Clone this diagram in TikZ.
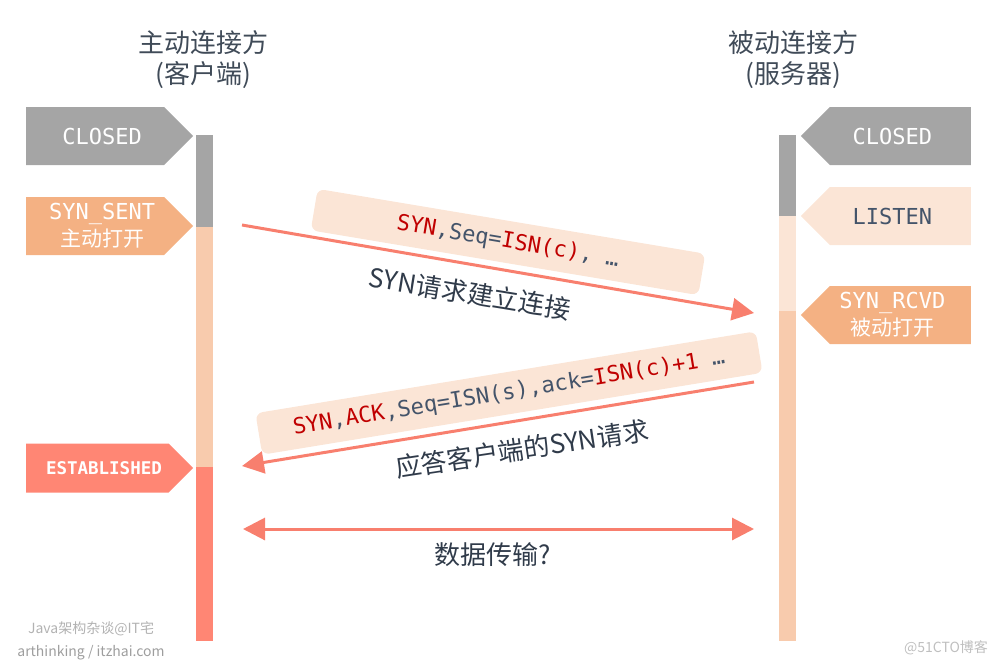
\documentclass[tikz,border=0pt]{standalone}
\usepackage{fontspec}
\setmainfont{Noto Sans CJK SC}
\setmonofont{DejaVu Sans Mono}
\usepackage{xcolor}
\usepackage{tikz}
\usetikzlibrary{arrows.meta, shapes.symbols}

\definecolor{stgray}{HTML}{A5A5A5}
\definecolor{storange}{HTML}{F4B183}
\definecolor{stpeach}{HTML}{F8CBAD}
\definecolor{stlight}{HTML}{FBE5D6}
\definecolor{stsalmon}{HTML}{FF8674}
\definecolor{arrowc}{HTML}{F87F6E}
\definecolor{darktext}{HTML}{44546A}
\definecolor{titletext}{HTML}{404B58}
\definecolor{codered}{HTML}{C00000}

\newcommand{\tagfont}{\ttfamily\fontsize{22}{27}\selectfont}
\newcommand{\zhtag}{\rmfamily\fontsize{21}{27}\selectfont}
\newcommand{\codefont}{\ttfamily\fontsize{22}{26}\selectfont}
\newcommand{\red}[1]{\textcolor{codered}{#1}}
\newcommand{\padL}{\hspace*{14pt}}
\newcommand{\padR}{\hspace*{16pt}}

\begin{document}
\begin{tikzpicture}[
    x=1pt, y=-1pt,
    tagL/.style={signal, signal to=east, signal pointer angle=90, fill=#1, minimum width=167pt, minimum height=58pt, inner sep=0pt, anchor=west, align=center, text=white, font=\tagfont},
    tagR/.style={signal, signal to=west, signal pointer angle=90, fill=#1, minimum width=170pt, minimum height=58pt, inner sep=0pt, anchor=east, align=center, text=white, font=\tagfont},
    lbl/.style={fill=stlight, rounded corners=7pt, minimum height=42pt, inner sep=0pt, text=darktext, font=\codefont},
    note/.style={text=darktext!70!black, font=\fontsize{26}{30}\selectfont},
    msg/.style={draw=arrowc, line width=3pt, -{Triangle[length=22pt,width=22pt]}},
    both/.style={draw=arrowc, line width=3pt, {Triangle[length=22pt,width=22pt]}-{Triangle[length=22pt,width=22pt]}},
    wmark/.style={font=\fontsize{14}{16}\selectfont}
]
    \useasboundingbox (0,0) rectangle (1000,665);

    \node[align=center, text=titletext, font=\fontsize{26}{31}\selectfont] (client) at (203,60) {主动连接方\\(客户端)};
    \node[align=center, text=titletext, font=\fontsize{26}{31}\selectfont] (server) at (793,60) {被动连接方\\(服务器)};

    \fill[stgray]   (196,135) rectangle (213,227);
    \fill[stpeach]  (196,227) rectangle (213,467);
    \fill[stsalmon] (196,467) rectangle (213,641);
    \fill[stgray]   (779,135) rectangle (796,216);
    \fill[stlight]  (779,216) rectangle (796,311);
    \fill[stpeach]  (779,311) rectangle (796,641);

    \node[tagL=stgray]   (cclosed) at (26,136) {\padL CLOSED};
    \node[tagL=storange] (sent)    at (26,226) {\padL SYN\_SENT\\\padL{\zhtag 主动打开}};
    \node[tagL=stsalmon, minimum height=49pt, font=\ttfamily\bfseries\fontsize{17.5}{20}\selectfont] (estab) at (26,468) {\hspace*{13pt}ESTABLISHED};

    \node[tagR=stgray]   (sclosed) at (971,136) {CLOSED\padR};
    \node[tagR=stlight, text=darktext] (listen) at (971,216) {LISTEN\padR};
    \node[tagR=storange] (rcvd)    at (971,315) {SYN\_RCVD\padR\\{\zhtag 被动打开}\padR};

    \coordinate (c1) at (242,225);
    \coordinate (s1) at (754,313);
    \coordinate (s2) at (754,382);
    \coordinate (c2) at (242,466);
    \coordinate (c3) at (243,529);
    \coordinate (s3) at (754,529);

    \node[lbl, minimum width=393pt, rotate=-9.5] (syn) at (508,242) {\red{SYN},Seq=\red{ISN(c)}, …};
    \node[lbl, minimum width=507pt, rotate=9.3] (synack) at (509,393) {\red{SYN},\red{ACK},Seq=ISN(s),ack=\red{ISN(c)+1} …};

    \draw[msg] (c1) -- (s1);
    \draw[msg] (s2) -- (c2);
    \draw[both] (c3) -- (s3);

    \node[note, rotate=-9.3] (req)  at (470,293) {SYN请求建立连接};
    \node[note, rotate=8.6]  (resp) at (522,449) {应答客户端的SYN请求};
    \node[note] (data) at (493,555) {数据传输?};

    \node[wmark, text=black!30] (wm1) at (91,629) {Java架构杂谈@IT宅};
    \node[wmark, text=black!38] (wm2) at (91,653) {arthinking / itzhai.com};
    \node[wmark, text=black!25] (wm3) at (946,648) {@51CTO博客};
\end{tikzpicture}
\end{document}
